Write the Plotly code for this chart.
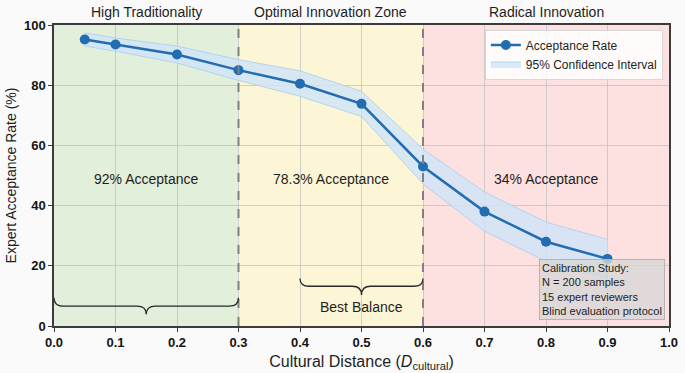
import plotly.graph_objects as go

# ---- data ----
distance = [0.05, 0.1, 0.2, 0.3, 0.4, 0.5, 0.6, 0.7, 0.8, 0.9]
acceptance = [95.2, 93.5, 90.2, 85.0, 80.5, 73.8, 53.0, 38.0, 28.0, 22.3]
ci_upper = [97.4, 95.7, 93.0, 88.5, 84.8, 78.0, 58.8, 44.5, 34.5, 28.8]
ci_lower = [93.0, 91.3, 87.4, 81.6, 76.3, 69.6, 47.2, 31.5, 21.5, 15.8]

zone_edges = [0.0, 0.3, 0.6, 1.0]
zone_names = ["High Traditionality", "Optimal Innovation Zone", "Radical Innovation"]
zone_rates = ["92% Acceptance", "78.3% Acceptance", "34% Acceptance"]
zone_colors = ["rgb(226,239,219)", "rgb(253,246,214)", "rgb(253,225,225)"]
zone_label_x = [0.15, 0.45, 0.8]

x_ticks = [0.0, 0.1, 0.2, 0.3, 0.4, 0.5, 0.6, 0.7, 0.8, 0.9, 1.0]
y_ticks = [0, 20, 40, 60, 80, 100]

note_lines = ["Calibration Study:", "N = 200 samples", "15 expert reviewers",
              "Blind evaluation protocol"]

LINE = "rgb(34,108,178)"
FONT = "Liberation Sans, Arial, sans-serif"

fig = go.Figure()

fig.add_trace(go.Scatter(x=distance, y=ci_upper, mode="lines",
                         line=dict(color="rgba(170,205,240,0.8)", width=1),
                         showlegend=False, hoverinfo="skip"))
fig.add_trace(go.Scatter(x=distance, y=ci_lower, mode="lines",
                         line=dict(color="rgba(170,205,240,0.8)", width=1),
                         fill="tonexty", fillcolor="rgba(208,228,248,0.82)",
                         name="95% Confidence Interval", legendrank=2))
fig.add_trace(go.Scatter(x=distance, y=acceptance, mode="lines+markers",
                         line=dict(color=LINE, width=2.5),
                         marker=dict(color=LINE, size=10),
                         name="Acceptance Rate", legendrank=1))

shapes = []
for i in range(3):
    shapes.append(dict(type="rect", xref="x", yref="y", x0=zone_edges[i], x1=zone_edges[i + 1],
                       y0=0, y1=100, fillcolor=zone_colors[i], line=dict(width=0), layer="below"))
for xe in zone_edges[1:3]:
    shapes.append(dict(type="line", xref="x", yref="y", x0=xe, x1=xe, y0=0, y1=100,
                       line=dict(color="rgb(128,128,128)", width=2, dash="dash"), layer="above"))


def brace(xa, xb, ybar, yend, ytip):
    xm = (xa + xb) / 2
    d = 0.015
    return (f"M {xa},{yend} Q {xa},{ybar} {xa + d},{ybar} L {xm - d},{ybar} "
            f"Q {xm},{ybar} {xm},{ytip} Q {xm},{ybar} {xm + d},{ybar} "
            f"L {xb - d},{ybar} Q {xb},{ybar} {xb},{yend}")


shapes.append(dict(type="path", xref="x", yref="y", path=brace(0.0, 0.3, 6.6, 9.4, 3.9),
                   line=dict(color="rgb(40,40,40)", width=1.3)))
shapes.append(dict(type="path", xref="x", yref="y", path=brace(0.4, 0.6, 13.2, 15.8, 10.3),
                   line=dict(color="rgb(40,40,40)", width=1.3)))

annotations = []
for i in range(3):
    annotations.append(dict(x=zone_label_x[i], y=1.0, xref="x", yref="paper", yanchor="bottom",
                            yshift=3, text=zone_names[i], showarrow=False,
                            font=dict(size=14, color="rgb(30,30,30)")))
    annotations.append(dict(x=zone_label_x[i], y=49, xref="x", yref="y", text=zone_rates[i],
                            showarrow=False, font=dict(size=14, color="rgb(30,30,30)")))
annotations.append(dict(x=0.5, y=6.3, xref="x", yref="y", text="Best Balance", showarrow=False,
                        font=dict(size=14, color="rgb(30,30,30)")))
annotations.append(dict(x=0.993, y=0.02, xref="paper", yref="paper", xanchor="right",
                        yanchor="bottom", align="left", text="<br>".join(note_lines),
                        showarrow=False, bgcolor="rgba(215,215,215,0.8)",
                        bordercolor="rgb(180,180,180)", borderwidth=1, borderpad=2,
                        font=dict(size=11, color="rgb(30,30,30)")))

fig.update_layout(
    width=685, height=373,
    margin=dict(l=54, r=16, t=25, b=47),
    paper_bgcolor="rgb(250,250,250)",
    plot_bgcolor="white",
    font=dict(family=FONT, color="rgb(30,30,30)"),
    shapes=shapes, annotations=annotations,
    legend=dict(x=0.99, y=0.985, xanchor="right", yanchor="top", traceorder="normal",
                bgcolor="rgba(255,255,255,0.85)", bordercolor="rgb(215,215,215)", borderwidth=1,
                font=dict(size=12), tracegroupgap=0),
    xaxis=dict(range=[0, 1], tickvals=x_ticks, ticktext=[f"{v:.1f}" for v in x_ticks],
               showgrid=True, gridcolor="rgba(190,190,190,0.7)", gridwidth=1,
               showline=True, linecolor="rgb(60,60,60)", linewidth=1.5, mirror=True,
               ticks="outside", ticklen=4, tickcolor="rgb(60,60,60)",
               tickfont=dict(size=13, weight="bold", color="rgb(20,20,20)"),
               title=dict(text="Cultural Distance (<i>D</i><sub>cultural</sub>)",
                          font=dict(size=16), standoff=6),
               zeroline=False, automargin=False),
    yaxis=dict(range=[0, 100], tickvals=y_ticks,
               showgrid=True, gridcolor="rgba(190,190,190,0.7)", gridwidth=1,
               showline=True, linecolor="rgb(60,60,60)", linewidth=1.5, mirror=True,
               ticks="outside", ticklen=4, tickcolor="rgb(60,60,60)",
               tickfont=dict(size=13, weight="bold", color="rgb(20,20,20)"),
               title=dict(text="Expert Acceptance Rate (%)", font=dict(size=14), standoff=4),
               zeroline=False, automargin=False),
)

fig.write_html("out.html", config={"displayModeBar": False},
               post_script="document.body.style.margin='0';document.body.style.overflow='hidden';")
